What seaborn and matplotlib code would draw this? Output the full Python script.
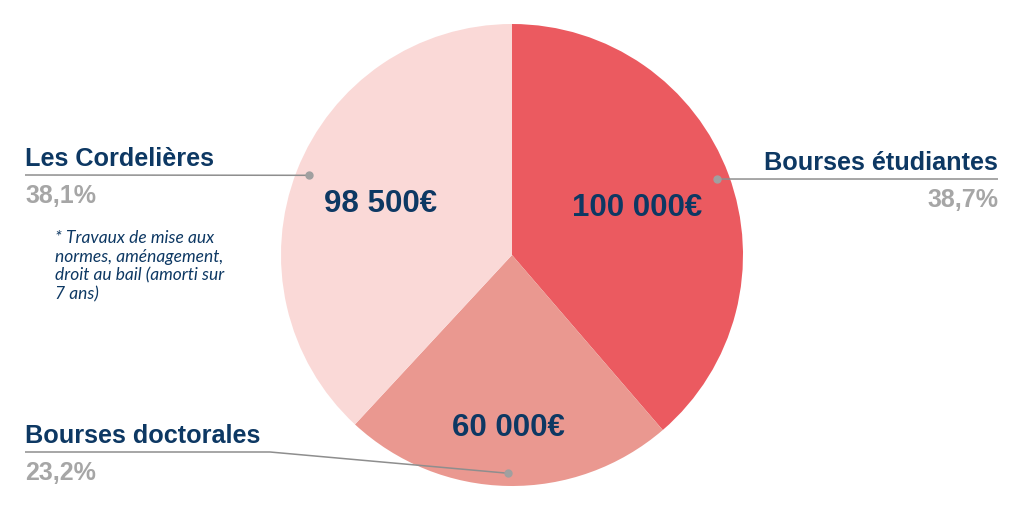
import numpy as np
import matplotlib
matplotlib.use("Agg")
import matplotlib.pyplot as plt
import seaborn as sns

# data, clockwise from 12 o'clock
categories = ["Bourses étudiantes", "Bourses doctorales", "Les Cordelières"]
amounts = [100000, 60000, 98500]
footnote = "* Travaux de mise aux\nnormes, aménagement,\ndroit au bail (amorti sur\n7 ans)"

colors = ["#EB5A60", "#EA9890", "#FAD9D7"]
navy = "#0D3863"
grey = "#A6A6A6"
line_grey = "#8E8E8E"

sns.set_theme(style="white")
plt.rcParams["font.family"] = ["Liberation Sans", "DejaVu Sans"]

W, H = 1024, 511
fig = plt.figure(figsize=(W / 100, H / 100), dpi=100)
ax = fig.add_axes([0, 0, 1, 1])

cx, cy, R = 512, 256, 231
wedges, _ = ax.pie(amounts, colors=colors, startangle=90, counterclock=False,
                   center=(cx, cy), radius=R, frame=True,
                   wedgeprops=dict(linewidth=0))
ax.set_xlim(0, W)
ax.set_ylim(0, H)
ax.set_aspect("equal")
ax.axis("off")

total = sum(amounts)
pcts = [f"{100 * a / total:.1f}".replace(".", ",") + "%" for a in amounts]
value_txt = [f"{a:,.0f}".replace(",", " ") + "€" for a in amounts]
value_r = [0.58, 0.75, 0.61]

# label layout (pixel coords, y from top)
label_pos = {
    "Bourses étudiantes": dict(x=998, y=179, ha="right", knee=None),
    "Bourses doctorales": dict(x=25, y=452, ha="left", knee=270),
    "Les Cordelières": dict(x=25, y=175, ha="left", knee=None),
}

for w, cat, pct, vt, vr in zip(wedges, categories, pcts, value_txt, value_r):
    mid = np.deg2rad((w.theta1 + w.theta2) / 2)
    # value inside slice
    ax.text(cx + vr * R * np.cos(mid), cy + vr * R * np.sin(mid), vt,
            ha="center", va="center", fontsize=22.5, fontweight="bold", color=navy)
    # leader line
    dx, dy = cx + 0.945 * R * np.cos(mid), cy + 0.945 * R * np.sin(mid)
    lp = label_pos[cat]
    ly = H - lp["y"]
    if lp["knee"] is not None:
        xs = [dx, lp["knee"], lp["x"]]
        ys = [dy, ly, ly]
    else:
        xs = [dx, lp["x"]]
        ys = [dy, ly]
    ax.plot(xs, ys, color=line_grey, lw=1.1, solid_capstyle="butt")
    ax.plot(dx, dy, "o", color="#A0A0A0", ms=5)
    ax.text(lp["x"], ly + 9, cat, ha=lp["ha"], va="baseline",
            fontsize=18.2, fontweight="bold", color=navy)
    ax.text(lp["x"], ly - 9, pct, ha=lp["ha"], va="top",
            fontsize=18, fontweight="bold", color=grey)

ax.text(55, H - 230, footnote, ha="left", va="top", fontsize=12.5,
        style="italic", color=navy, family=["Lato", "DejaVu Sans"],
        linespacing=1.2)

fig.savefig("out.png", dpi=100)
